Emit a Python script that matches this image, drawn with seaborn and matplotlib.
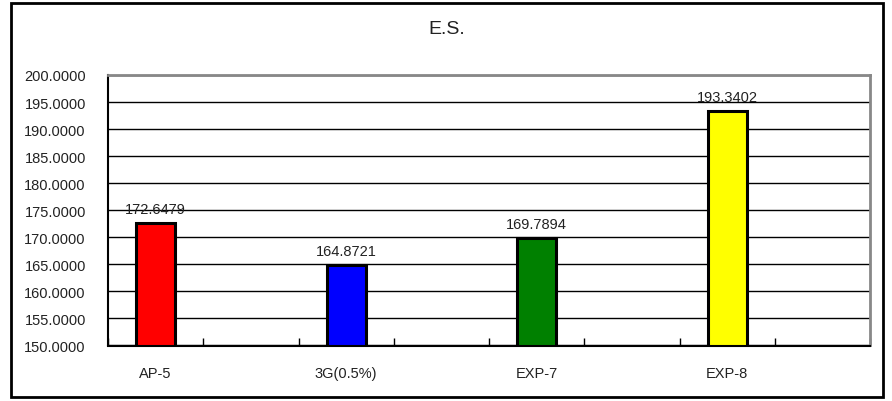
import matplotlib
matplotlib.use("Agg")
import matplotlib.pyplot as plt
from matplotlib.patches import Rectangle
from matplotlib.ticker import FixedLocator, FormatStrFormatter
import seaborn as sns
import pandas as pd

# ---- data ----
categories = ["AP-5", "3G(0.5%)", "EXP-7", "EXP-8"]
values = [172.6479, 164.8721, 169.7894, 193.3402]
colors = ["#FF0000", "#0000FF", "#008000", "#FFFF00"]
title = "E.S."
y_ticks = [150, 155, 160, 165, 170, 175, 180, 185, 190, 195, 200]

# category slots: each category is followed by an empty slot
slots = []
for i, c in enumerate(categories):
    slots.append(c)
    slots.append(f"_blank{i}")
slot_labels = [s if not s.startswith("_blank") else "" for s in slots]

df = pd.DataFrame({"cat": categories, "val": values})

sns.set_theme(style="white")
plt.rcParams["font.family"] = ["Liberation Sans", "DejaVu Sans"]

fig = plt.figure(figsize=(8.92, 4.02), dpi=100)
ax = fig.add_axes([108 / 892, 1 - 346.5 / 402, (870 - 108) / 892, (346.5 - 76) / 402])

sns.barplot(data=df, x="cat", y="val", hue="cat", order=slots,
            hue_order=categories, palette=dict(zip(categories, colors)),
            width=0.41, edgecolor="black", linewidth=2.2, legend=False,
            dodge=False, ax=ax, saturation=1)

for cont in ax.containers:
    ax.bar_label(cont, fmt="%.4f", padding=5, fontsize=10.5, color="#222222")

ax.set_xlim(-0.5, len(slots) - 0.5)
ax.set_ylim(y_ticks[0], y_ticks[-1])
ax.set_yticks(y_ticks)
ax.yaxis.set_major_formatter(FormatStrFormatter("%.4f"))
ax.set_xticks(range(len(slots)))
ax.set_xticklabels(slot_labels)
ax.xaxis.set_minor_locator(FixedLocator([i - 0.5 for i in range(len(slots) + 1)]))
ax.tick_params(axis="x", which="major", length=0, pad=15, labelsize=10.5, colors="#222222")
ax.tick_params(axis="x", which="minor", length=6, width=1, direction="in",
               color="black", bottom=True)
ax.tick_params(axis="y", which="major", length=0, pad=16, labelsize=10.5, colors="#222222")
ax.set_xlabel("")
ax.set_ylabel("")

ax.yaxis.grid(True, color="black", linewidth=1)
ax.set_axisbelow(True)

for side in ["left", "bottom"]:
    ax.spines[side].set_color("black")
    ax.spines[side].set_linewidth(1.5)
for side in ["top", "right"]:
    ax.spines[side].set_color("#888888")
    ax.spines[side].set_linewidth(2)

fig.text(447 / 892, 1 - 30 / 402, title, ha="center", va="center",
         fontsize=14, color="#222222")

fig.patches.append(Rectangle((11 / 892, 4 / 402), (883 - 11) / 892, (398 - 4) / 402,
                             transform=fig.transFigure, fill=False,
                             edgecolor="black", linewidth=2))

fig.savefig("out.png", dpi=100, facecolor="white")
